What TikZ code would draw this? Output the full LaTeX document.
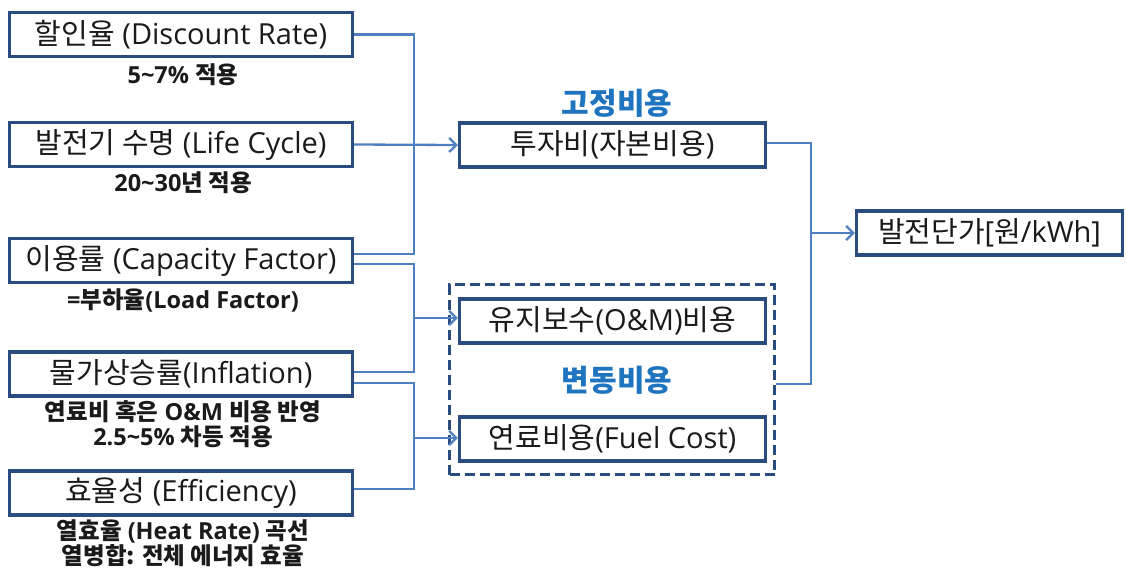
\documentclass[tikz,border=0pt]{standalone}
\usepackage{fontspec}
\setmainfont{Open Sans}
\newfontfamily\kr{Noto Sans CJK KR}
\newcommand\hg[1]{{\kr #1}}
\newcommand\tild{\char"007E\relax}
\usetikzlibrary{arrows.meta,calc}
\definecolor{boxc}{HTML}{2B4C7E}
\definecolor{wirec}{HTML}{4F7FBF}
\definecolor{grpc}{HTML}{1F74C0}
\definecolor{txt}{HTML}{1A1A1A}
\begin{document}
\begin{tikzpicture}[x=1pt,y=-1pt,
  box/.style={draw=boxc, line width=3.4pt, fill=white, minimum height=44pt,
    inner sep=0pt, text=txt, font=\fontsize{29}{32}\selectfont},
  lbox/.style={box, minimum width=343pt},
  mbox/.style={box, minimum width=306pt},
  note/.style={text=txt, font=\fontsize{23.5}{25}\selectfont\bfseries,
    align=center, inner sep=0pt},
  grp/.style={text=grpc, font=\fontsize{30}{32}\selectfont\bfseries, inner sep=0pt},
  wire/.style={draw=wirec, line width=2.3pt},
  arr/.style={wire, -{Straight Barb[length=7pt,width=14pt]}}
]
\useasboundingbox (0,0) rectangle (1126,570);

% variable-cost group frame
\node (var) [draw=boxc, line width=3.2pt, dash pattern=on 10pt off 5pt,
  minimum width=325pt, minimum height=190pt, inner sep=0pt] at (612,379.5) {};

% input factors
\node (b1) [lbox] at (181,34.5) {\hg{할인율} (Discount Rate)};
\node (b2) [lbox] at (181,144.5) {\hg{발전기 수명} (Life Cycle)};
\node (b3) [lbox] at (181,260.5) {\hg{이용률} (Capacity Factor)};
\node (b4) [lbox] at (181,374) {\hg{물가상승률}(Inflation)};
\node (b5) [lbox] at (181,493) {\hg{효율성} (Efficiency)};

\node (n1) [note] at (183,75) {5\tild7\% \hg{적용}};
\node (n2) [note] at (183,183) {20\tild30\hg{년 적용}};
\node (n3) [note] at (183,300) {=\hg{부하율}(Load Factor)};
\node (n4) [note] at (183,424) {\hg{연료비 혹은} O\&M \hg{비용 반영}\\2.5\tild5\% \hg{차등 적용}};
\node (n5) [note] at (183,543) {\hg{열효율} (Heat Rate) \hg{곡선}\\\hg{열병합: 전체 에너지 효율}};

% cost components
\node (g1) [grp] at (617,103) {\hg{고정비용}};
\node (inv) [mbox] at (612.5,145) {\hg{투자비}(\hg{자본비용})};
\node (om) [mbox] at (612.5,321) {\hg{유지보수}(O\&M)\hg{비용}};
\node (g2) [grp] at (617,380) {\hg{변동비용}};
\node (fuel) [mbox] at (612.5,439) {\hg{연료비용}(Fuel Cost)};

% result
\node (out) [box, minimum width=266pt] at (989.5,233) {\hg{발전단가}[\hg{원}/kWh]};

% connectors from the inputs
\draw[wire] (b1.east) -| ($(b3.east)+(60,-6.5)$) -- ($(b3.east)+(0,-6.5)$);
\draw[arr] (b2.east) -- (inv.west);
\draw[wire] ($(b3.east)+(0,3.5)$) -| ($(b4.east)+(60,-2)$) -- ($(b4.east)+(0,-2)$);
\coordinate (busB) at (413,318);
\draw[arr] (busB) -- (busB -| om.west);
\draw[wire] ($(b4.east)+(0,9)$) -| ($(b5.east)+(60,-4)$) -- ($(b5.east)+(0,-4)$);
\coordinate (busC) at (413,438);
\draw[arr] (busC) -- (busC -| fuel.west);

% connectors to the unit cost
\draw[wire] ($(inv.east)+(0,-2)$) -| ($(var.east)+(35,4.5)$) -- ($(var.east)+(0,4.5)$);
\coordinate (busD) at (810,233);
\draw[arr] (busD) -- (out.west);
\end{tikzpicture}
\end{document}
